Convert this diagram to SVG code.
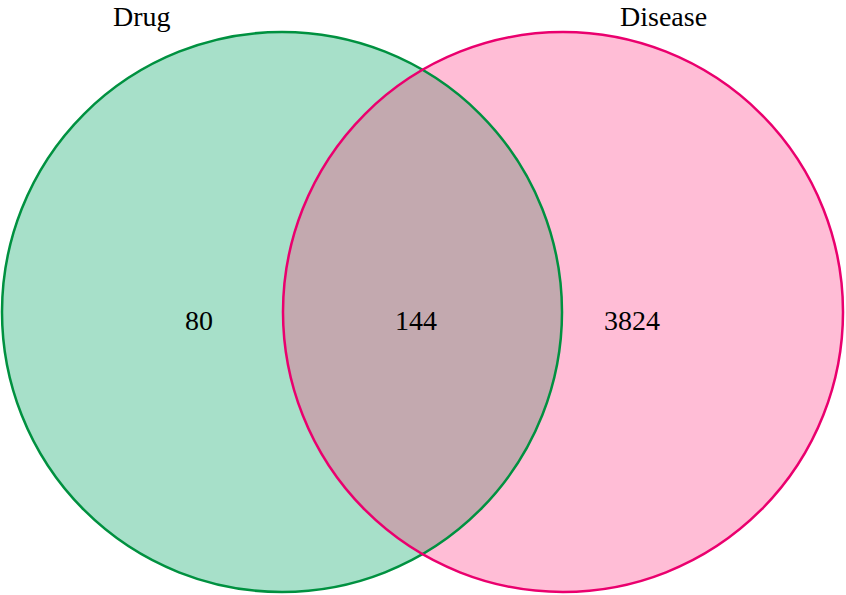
<svg xmlns="http://www.w3.org/2000/svg" width="846" height="595" viewBox="0 0 846 595">
<style>
.lbl{font-family:"Liberation Serif","Times New Roman",serif;font-size:28px;fill:#000}
.num{font-family:"Liberation Serif","Times New Roman",serif;font-size:28px;fill:#000;text-anchor:middle}
</style>
<defs>
<clipPath id="clipL"><circle cx="282" cy="312" r="280"/></clipPath>
</defs>
<rect width="846" height="595" fill="#fff"/>
<g id="drug">
<circle cx="282" cy="312" r="280" fill="#A7E0C9"/>
</g>
<g id="disease">
<circle cx="563" cy="312" r="280" fill="#FFBDD6"/>
</g>
<g id="overlap">
<circle cx="563" cy="312" r="280" fill="#C3A9AF" clip-path="url(#clipL)"/>
</g>
<g id="outlines" fill="none" stroke-width="2.5">
<circle cx="282" cy="312" r="280" stroke="#009140"/>
<circle cx="563" cy="312" r="280" stroke="#EA006E"/>
</g>
<g id="labels">
<text class="lbl" x="113" y="26">Drug</text>
<text class="lbl" x="620" y="26">Disease</text>
<text class="num" x="199" y="330">80</text>
<text class="num" x="416" y="330">144</text>
<text class="num" x="632" y="330">3824</text>
</g>
</svg>
